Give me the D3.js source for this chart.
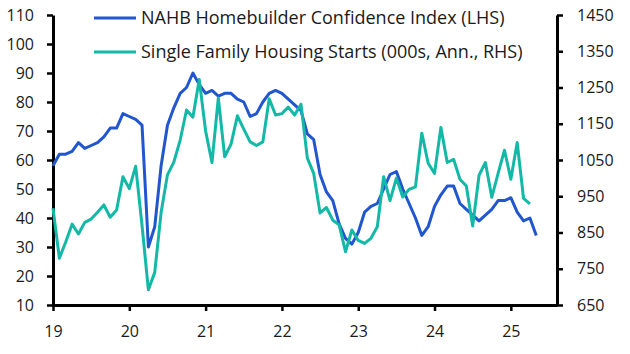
<!DOCTYPE html>
<html>
<head>
<meta charset="utf-8">
<script src="https://cdn.jsdelivr.net/npm/d3@7"></script>
<style>
  body { margin: 0; background: #fff; }
  svg { display: block; font-family: "Open Sans", sans-serif; }
  .axis text { font-size: 16px; fill: #1a1a1a; }
  .axis path, .axis line { stroke: #000; }
</style>
</head>
<body>
<script>
var w = 630;
var h = 354;

// Monthly data, Jan 2019 onwards
var startYear = 2019;
var nahb = [58, 62, 62, 63, 66, 64, 65, 66, 68, 71, 71, 76,
            75, 74, 72, 30, 37, 58, 72, 78, 83, 85, 90, 86,
            83, 84, 82, 83, 83, 81, 80, 75, 76, 80, 83, 84,
            83, 81, 79, 77, 69, 67, 55, 49, 46, 38, 33, 31,
            35, 42, 44, 45, 50, 55, 56, 50, 45, 40, 34, 37,
            44, 48, 51, 51, 45, 43, 41, 39, 41, 43, 46, 46,
            47, 42, 39, 40, 34];
var starts = [917, 779, 824, 873, 846, 878, 887, 906, 926, 892, 912, 1004,
              971, 1033, 870, 692, 740, 905, 1009, 1044, 1105, 1188, 1168, 1272,
              1130, 1043, 1221, 1059, 1094, 1172, 1135, 1100, 1090, 1100, 1219, 1174,
              1178, 1196, 1174, 1204, 1055, 1013, 904, 919, 884, 871, 797, 857,
              828, 820, 834, 866, 1004, 938, 1000, 948, 969, 976, 1124, 1041,
              1013, 1140, 1043, 1052, 997, 978, 868, 1008, 1043, 947, 1013, 1077,
              997, 1098, 944, 929];

var yearTicks = [2019, 2020, 2021, 2022, 2023, 2024, 2025];
var leftTicks = [10, 20, 30, 40, 50, 60, 70, 80, 90, 100, 110];
var rightTicks = [650, 750, 850, 950, 1050, 1150, 1250, 1350, 1450];
var seriesNames = ["NAHB Homebuilder Confidence Index (LHS)",
                   "Single Family Housing Starts (000s, Ann., RHS)"];
var colors = ["#2156cf", "#13b9a6"];

var plotLeft = 53, plotRight = 557, plotTop = 15, plotBottom = 305;

var x = d3.scaleLinear().domain([2019, 2025.605]).range([plotLeft, plotRight]);
var yL = d3.scaleLinear().domain([10, 110]).range([plotBottom, plotTop]);
var yR = d3.scaleLinear().domain([650, 1450]).range([plotBottom, plotTop]);

var svg = d3.select("body")
  .append("svg")
  .attr("width", w)
  .attr("height", h);

// Axes
var gx = svg.append("g")
  .attr("class", "axis")
  .attr("transform", "translate(0," + plotBottom + ")")
  .call(d3.axisBottom(x).tickValues(yearTicks).tickSize(6).tickSizeOuter(0)
    .tickFormat(function(d) { return d % 100; }));
gx.selectAll("text").attr("y", 21);

var gl = svg.append("g")
  .attr("class", "axis")
  .attr("transform", "translate(" + plotLeft + ",0)")
  .call(d3.axisLeft(yL).tickValues(leftTicks).tickSize(6).tickSizeOuter(0));
gl.selectAll("text").attr("x", -19);

var gr = svg.append("g")
  .attr("class", "axis")
  .attr("transform", "translate(" + plotRight + ",0)")
  .call(d3.axisRight(yR).tickValues(rightTicks).tickSize(6).tickSizeOuter(0)
    .tickFormat(d3.format("d")));
gr.selectAll("text").attr("x", 20);

svg.selectAll(".axis path").attr("stroke-width", 3);
svg.selectAll(".axis line").attr("stroke-width", 2.5);
svg.selectAll(".axis text").attr("font-family", "Open Sans").attr("font-size", 16);

// Lines
var monthX = function(d, i) { return x(startYear + i / 12); };

svg.append("path")
  .datum(nahb)
  .attr("fill", "none")
  .attr("stroke", colors[0])
  .attr("stroke-width", 3)
  .attr("stroke-linejoin", "round")
  .attr("d", d3.line().x(monthX).y(function(d) { return yL(d); }));

svg.append("path")
  .datum(starts)
  .attr("fill", "none")
  .attr("stroke", colors[1])
  .attr("stroke-width", 3)
  .attr("stroke-linejoin", "round")
  .attr("d", d3.line().x(monthX).y(function(d) { return yR(d); }));

// Legend
var legend = svg.append("g");
seriesNames.forEach(function(name, i) {
  var ly = 18 + i * 34;
  legend.append("line")
    .attr("x1", 94).attr("x2", 136)
    .attr("y1", ly).attr("y2", ly)
    .attr("stroke", colors[i])
    .attr("stroke-width", 3);
  legend.append("text")
    .attr("x", 141)
    .attr("y", ly)
    .attr("dy", "0.35em")
    .attr("font-size", 18)
    .attr("fill", "#1a1a1a")
    .text(name);
});
</script>
</body>
</html>
